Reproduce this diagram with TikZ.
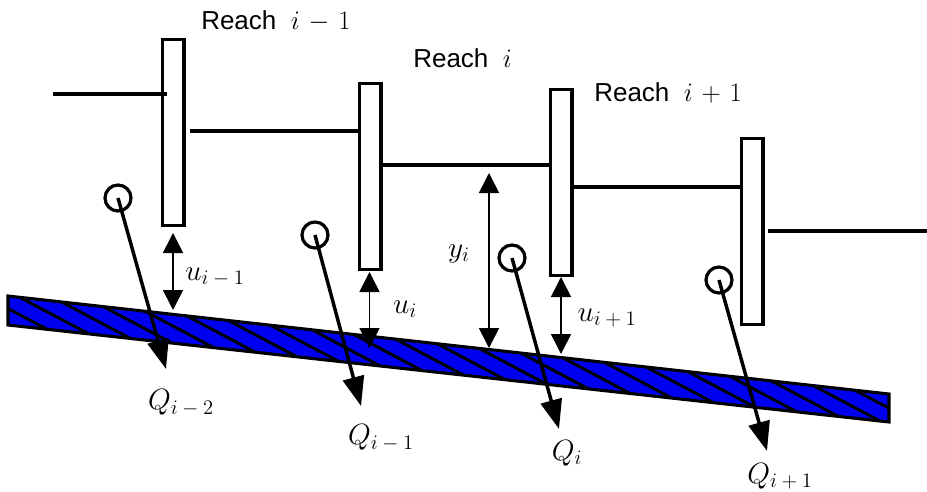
\documentclass[tikz,border=0pt]{standalone}
\usepackage{fix-cm}
\usepackage[no-math]{fontspec}
\setmainfont{Liberation Sans}
\usetikzlibrary{arrows.meta}
\definecolor{slabblue}{HTML}{0000F0}
\DeclareMathSizes{22}{22}{15.5}{11}
\DeclareMathSizes{20}{20}{14}{10}
\newcommand{\lbl}{\fontsize{19.5}{23}\selectfont}
\newcommand{\mth}{\fontsize{22}{26}\selectfont}
\newcommand{\rmth}{\fontsize{20}{24}\selectfont}
\tikzset{gatebox/.style={draw,fill=white,line width=2.5pt,minimum width=16pt,minimum height=139.5pt,inner sep=0,anchor=north west},
  wasser/.style={line width=2.5pt},
  hoehe/.style={line width=1.25pt,{Triangle[length=15pt,width=15pt]}-{Triangle[length=15pt,width=15pt]}},
  abfluss/.style={line width=2.6pt,-{Triangle[length=22pt,width=16pt]}},
  pool/.style={circle,draw,line width=2.4pt,minimum size=19.5pt,inner sep=0},
  lab/.style={inner sep=0,font=\mth},
  reachlab/.style={inner sep=0,font=\lbl,anchor=base west}}
\begin{document}
\begin{tikzpicture}[x=0.75pt,y=-0.75pt]
\useasboundingbox (0,0) rectangle (927,492);
% slab
\begin{scope}
\clip (8,296) -- (889,394) -- (889,422) -- (8,325) -- cycle;
\fill[slabblue] (0,280) rectangle (927,430);
\foreach \k in {-1,...,27}{
  \draw[line width=2.2pt] ({23+33*\k-40},{299-21.2}) -- ({23+33*\k+247},430);
}
\end{scope}
\draw[line width=2.3pt] (8,296) -- (889,394) -- (889,422) -- (8,325) -- cycle;
% gates
\node[gatebox] (gatea) at (161,38) {};
\node[gatebox] (gateb) at (358,82) {};
\node[gatebox] (gatec) at (549,88) {};
\node[gatebox] (gated) at (740,137) {};
% water levels
\coordinate (wa) at (53,94);
\coordinate (wae) at (167,94);
\coordinate (wb) at (190,131);
\coordinate (wc) at (gateb.east|-0,165);
\coordinate (wd) at (gatec.east|-0,187);
\coordinate (we) at (768,231);
\coordinate (wee) at (927,231);
\draw[wasser] (wa) -- (wae);
\draw[wasser] (wb) -- (wb-|gateb.west);
\draw[wasser] (wc) -- (wc-|gatec.west);
\draw[wasser] (wd) -- (wd-|gated.west);
\draw[wasser] (we) -- (wee);
% heights
\coordinate (ua) at (173,233);
\coordinate (uae) at (173,310);
\coordinate (ub) at (369.5,272);
\coordinate (ube) at (369.5,348);
\coordinate (yi) at (489,173);
\coordinate (yie) at (489,348);
\coordinate (uc) at (561,277);
\coordinate (uce) at (561,354);
\draw[hoehe] (ua) -- (uae);
\draw[hoehe] (ub) -- (ube);
\draw[hoehe] (yi) -- (yie);
\draw[hoehe] (uc) -- (uce);
% flows
\node[pool] (poola) at (118,198) {};
\node[pool] (poolb) at (315,235) {};
\node[pool] (poolc) at (512,258) {};
\node[pool] (poold) at (719,280) {};
\coordinate (qa) at (166,369);
\coordinate (qb) at (361,406);
\coordinate (qc) at (559,429);
\coordinate (qd) at (767,451);
\draw[abfluss] (poola.center) -- (qa);
\draw[abfluss] (poolb.center) -- (qb);
\draw[abfluss] (poolc.center) -- (qc);
\draw[abfluss] (poold.center) -- (qd);
% labels
\node[reachlab] (reacha) at (201,30) {Reach\ \ {\rmth$i\mskip2mu-\mskip2mu1$}};
\node[reachlab] (reachb) at (413,68) {Reach\ \ {\rmth$i$}};
\node[reachlab] (reachc) at (594,101) {Reach\ \ {\rmth$i\mskip2mu+\mskip2mu1$}};
\node[lab] (labua) at (215,277) {$u_{i\mskip4mu-\mskip4mu1}$};
\node[lab] (labub) at (405,309) {$u_i$};
\node[lab] (labuc) at (607,318) {$u_{i\mskip4mu+\mskip4mu1}$};
\node[lab] (labyi) at (459,254) {$y_i$};
\node[lab] (labqa) at (181,403) {$Q_{i\mskip4mu-\mskip4mu2}$};
\node[lab] (labqb) at (381,438) {$Q_{i\mskip4mu-\mskip4mu1}$};
\node[lab] (labqc) at (567,453) {$Q_i$};
\node[lab] (labqd) at (780,476) {$Q_{i\mskip4mu+\mskip4mu1}$};
\end{tikzpicture}
\end{document}
